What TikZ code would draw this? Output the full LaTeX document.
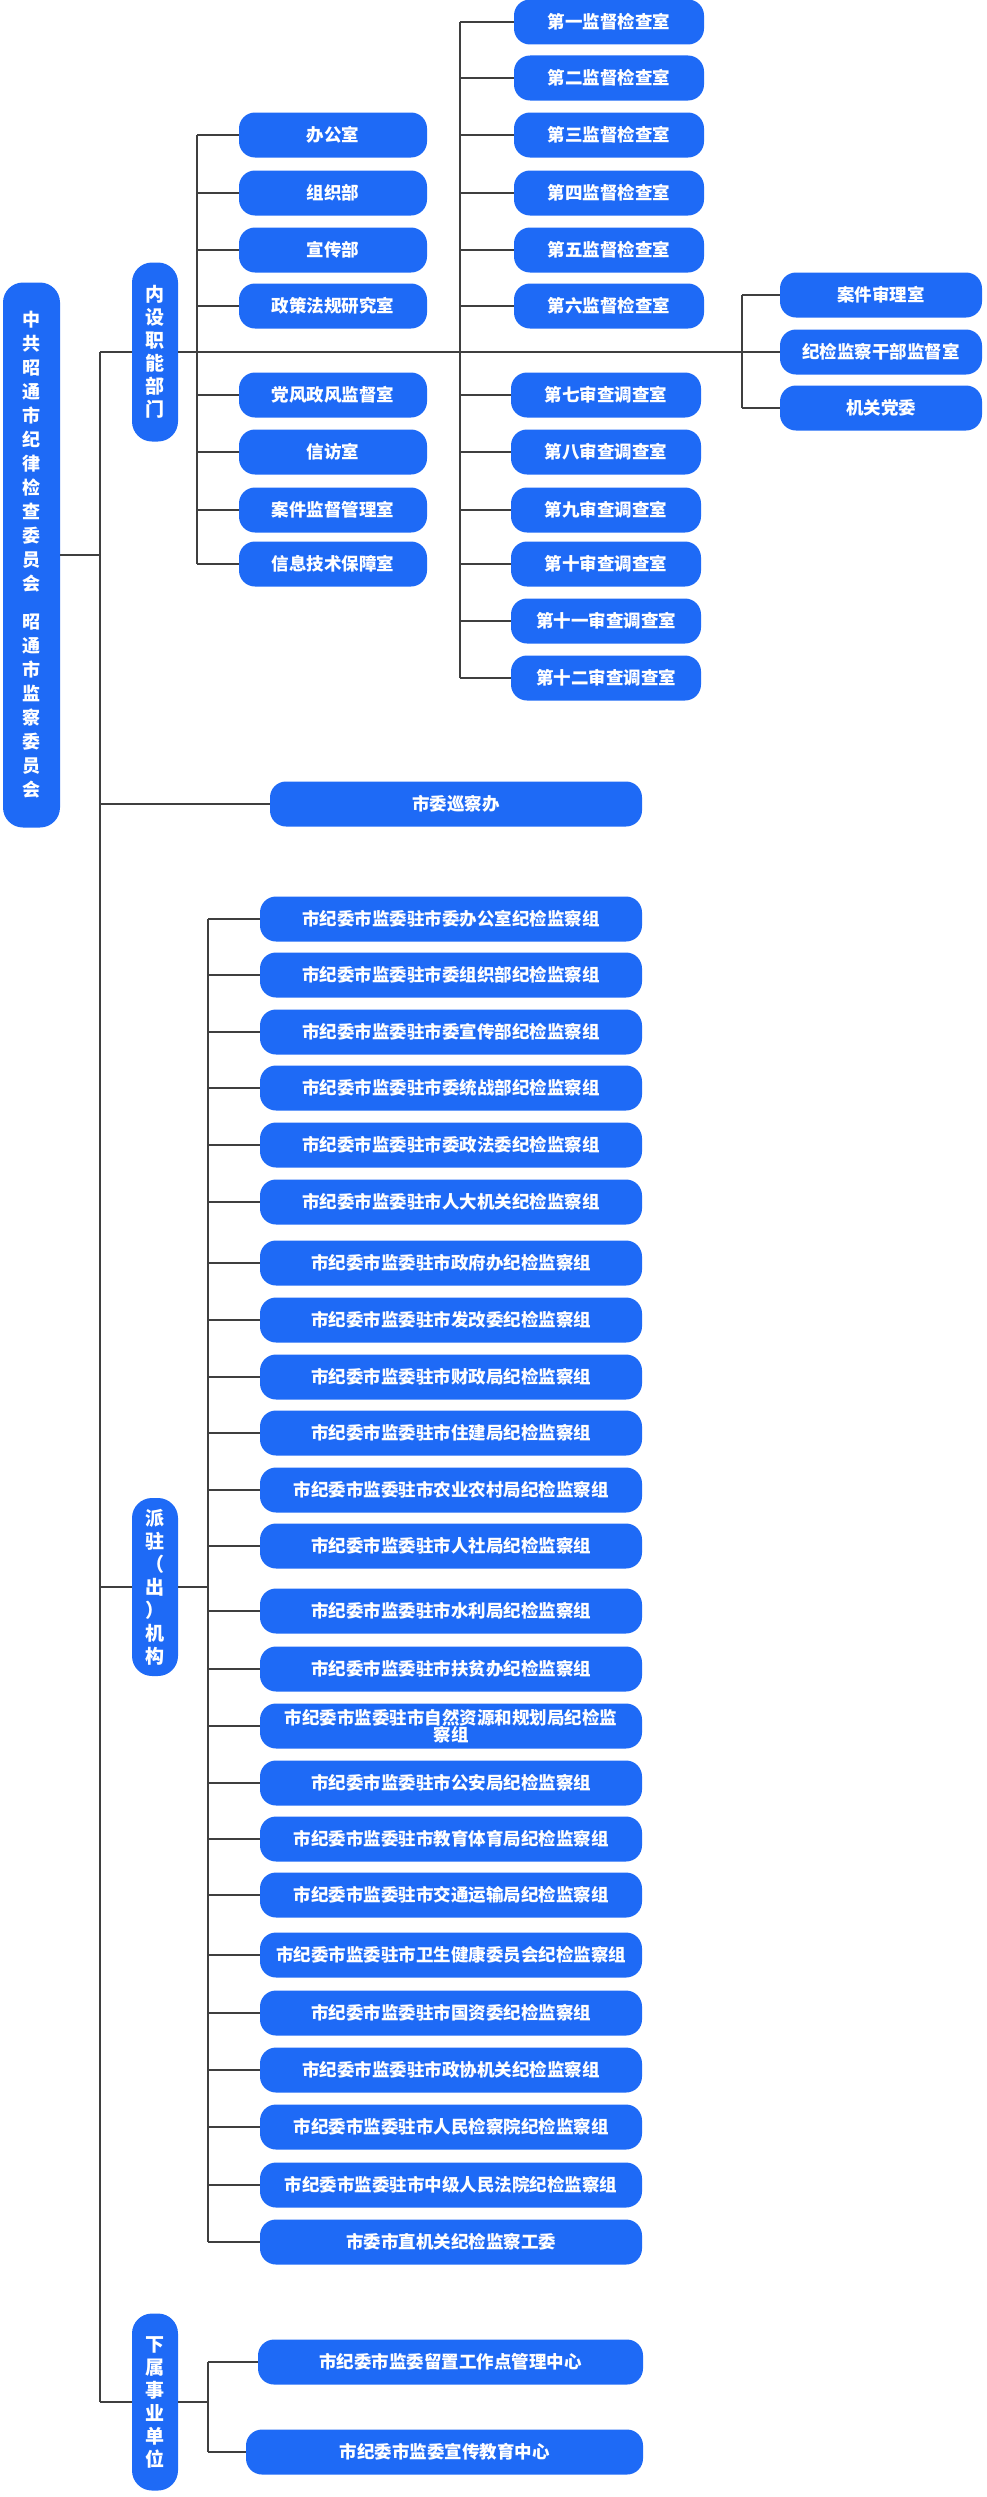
\documentclass[tikz,border=0pt]{standalone}
\usepackage{fontspec}
\setmainfont{Noto Sans CJK SC}
\usetikzlibrary{positioning}
\definecolor{boxblue}{HTML}{1E6AF6}
\definecolor{linegray}{HTML}{3F3F3F}
\begin{document}
\begin{tikzpicture}[x=1pt,y=-1pt]
% Estilos
\tikzset{
  unit/.style={rectangle, rounded corners=16pt, fill=boxblue, text=white, font=\bfseries\fontsize{17.5}{20}\selectfont, minimum height=45pt, inner sep=0pt, align=center},
  vlabel/.style={unit, rounded corners=20pt, font=\bfseries\fontsize{19}{23}\selectfont, minimum width=46pt},
  link/.style={draw=linegray, line width=2pt}
}
\useasboundingbox (0,0) rectangle (986,2497);

% Raiz e tronco
\node[vlabel, minimum width=57pt, minimum height=545pt, font=\bfseries\fontsize{18}{24}\selectfont] (root) at (31.5,555)
  {中\\共\\昭\\通\\市\\纪\\律\\检\\查\\委\\员\\会\\[14pt]昭\\通\\市\\监\\察\\委\\员\\会};
\coordinate (trunktop) at (100,352);
\coordinate (trunkbot) at (100,2402);
\draw[link] (trunktop) -- (trunkbot);
\draw[link] (root.east) -- (root.east -| trunktop);

% Inner departments
\node[vlabel, minimum height=179pt] (neishe) at (155,352) {内\\设\\职\\能\\部\\门};
\coordinate (hubL) at (197,352);
\coordinate (hubM) at (460,352);
\coordinate (hubR) at (742,352);
\draw[link] (trunktop) -- (neishe.west);
\draw[link] (neishe.east) -- (hubR);

\foreach \i/\y/\t in {1/135/办公室, 2/193/组织部, 3/250/宣传部, 4/306/政策法规研究室,
                      5/395/党风政风监督室, 6/452/信访室, 7/510/案件监督管理室, 8/564/信息技术保障室}{
  \node[unit, minimum width=188pt] (ks\i) at (333,\y) {\t};
  \draw[link] (ks\i.west -| hubL) -- (ks\i.west);
}
\draw[link] (ks1.west -| hubL) -- (ks8.west -| hubL);

\foreach \i/\y/\t in {1/22/第一监督检查室, 2/78/第二监督检查室, 3/135/第三监督检查室,
                      4/193/第四监督检查室, 5/250/第五监督检查室, 6/306/第六监督检查室}{
  \node[unit, minimum width=190pt] (jd\i) at (609,\y) {\t};
  \draw[link] (jd\i.west -| hubM) -- (jd\i.west);
}
\foreach \i/\y/\t in {7/395/第七审查调查室, 8/452/第八审查调查室, 9/510/第九审查调查室,
                      10/564/第十审查调查室, 11/621/第十一审查调查室, 12/678/第十二审查调查室}{
  \node[unit, minimum width=190pt] (jd\i) at (606,\y) {\t};
  \draw[link] (jd\i.west -| hubM) -- (jd\i.west);
}
\draw[link] (jd1.west -| hubM) -- (jd12.west -| hubM);

\foreach \i/\y/\t in {1/295/案件审理室, 2/352/纪检监察干部监督室, 3/408/机关党委}{
  \node[unit, minimum width=202pt] (sl\i) at (881,\y) {\t};
  \draw[link] (sl\i.west -| hubR) -- (sl\i.west);
}
\draw[link] (sl1.west -| hubR) -- (sl3.west -| hubR);

% Xuncha
\node[unit, minimum width=372pt] (xuncha) at (456,804) {市委巡察办};
\draw[link] (xuncha.west -| trunktop) -- (xuncha.west);

% Paizhu
\node[vlabel, minimum height=178pt] (paizhu) at (155,1587) {派\\驻\\（\\出\\）\\机\\构};
\coordinate (pzbar) at (208,1587);
\draw[link] (paizhu.west -| trunktop) -- (paizhu.west);
\draw[link] (paizhu.east) -- (pzbar);
\foreach \i/\y/\t in {1/919/市纪委市监委驻市委办公室纪检监察组, 2/975/市纪委市监委驻市委组织部纪检监察组,
  3/1032/市纪委市监委驻市委宣传部纪检监察组, 4/1088/市纪委市监委驻市委统战部纪检监察组,
  5/1145/市纪委市监委驻市委政法委纪检监察组, 6/1202/市纪委市监委驻市人大机关纪检监察组,
  7/1263/市纪委市监委驻市政府办纪检监察组, 8/1320/市纪委市监委驻市发改委纪检监察组,
  9/1377/市纪委市监委驻市财政局纪检监察组, 10/1433/市纪委市监委驻市住建局纪检监察组,
  11/1490/市纪委市监委驻市农业农村局纪检监察组, 12/1546/市纪委市监委驻市人社局纪检监察组,
  13/1611/市纪委市监委驻市水利局纪检监察组, 14/1669/市纪委市监委驻市扶贫办纪检监察组,
  15/1726/{市纪委市监委驻市自然资源和规划局纪检监\\[-3pt]察组}, 16/1783/市纪委市监委驻市公安局纪检监察组,
  17/1839/市纪委市监委驻市教育体育局纪检监察组, 18/1895/市纪委市监委驻市交通运输局纪检监察组,
  19/1955/市纪委市监委驻市卫生健康委员会纪检监察组, 20/2013/市纪委市监委驻市国资委纪检监察组,
  21/2070/市纪委市监委驻市政协机关纪检监察组, 22/2127/市纪委市监委驻市人民检察院纪检监察组,
  23/2185/市纪委市监委驻市中级人民法院纪检监察组, 24/2242/市委市直机关纪检监察工委}{
  \node[unit, minimum width=382pt] (pz\i) at (451,\y) {\t};
  \draw[link] (pz\i.west -| pzbar) -- (pz\i.west);
}
\draw[link] (pz1.west -| pzbar) -- (pz24.west -| pzbar);

% Xiashu
\node[vlabel, minimum height=177pt] (xiashu) at (155,2402) {下\\属\\事\\业\\单\\位};
\coordinate (xsbar) at (208,2402);
\draw[link] (trunkbot) -- (xiashu.west);
\draw[link] (xiashu.east) -- (xsbar);
\node[unit, minimum width=385pt] (xs1) at (450.5,2362) {市纪委市监委留置工作点管理中心};
\node[unit, minimum width=397pt] (xs2) at (444.5,2452) {市纪委市监委宣传教育中心};
\draw[link] (xs1.west -| xsbar) -- (xs1.west);
\draw[link] (xs2.west -| xsbar) -- (xs2.west);
\draw[link] (xs1.west -| xsbar) -- (xs2.west -| xsbar);
\end{tikzpicture}
\end{document}
